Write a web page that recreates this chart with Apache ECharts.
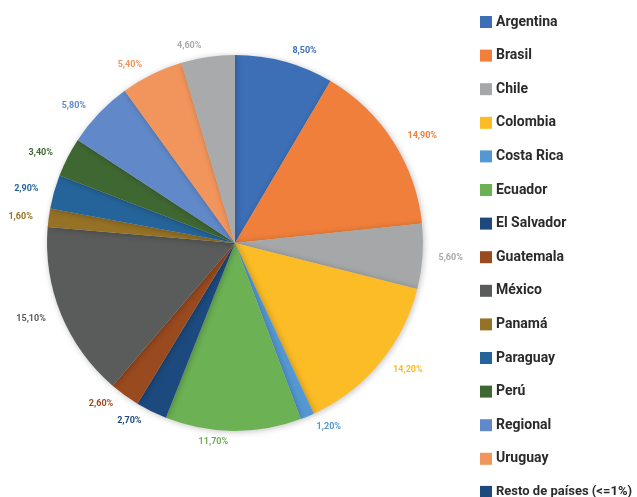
<!DOCTYPE html>
<html><head><meta charset="utf-8">
<script src="https://cdn.jsdelivr.net/npm/echarts@6/dist/echarts.min.js"></script>
<style>html,body{margin:0;padding:0;background:#fff}#c{width:637px;height:497px}</style>
</head><body><div id="c"></div>
<script>
var categories = ['Argentina','Brasil','Chile','Colombia','Costa Rica','Ecuador','El Salvador','Guatemala','México','Panamá','Paraguay','Perú','Regional','Uruguay','Resto de países (<=1%)'];
var values = [8.5,14.9,5.6,14.2,1.2,11.7,2.7,2.6,15.1,1.6,2.9,3.4,5.8,5.4,4.6];
var colors = ['#3D6FB6','#EF7F3A','#A5A7A8','#FCBC26','#5498D3','#6CB254','#1C4A7E','#9A4A1F','#5A5C5C','#967226','#25649A','#3F6732','#6189C9','#F2955C','#A8AAAB'];
var legendColors = ['#3D6FB6','#EF7F3A','#A5A7A8','#FCBC26','#5498D3','#6CB254','#1C4A7E','#9A4A1F','#5A5C5C','#967226','#25649A','#3F6732','#6189C9','#F2955C','#1C4A7E'];

var data = categories.map(function(n,i){
  return {name:n, value:values[i], itemStyle:{color:colors[i]}, label:{color:colors[i]}};
});
var chart = echarts.init(document.getElementById('c'));
chart.setOption({
  animation:false,
  legend:{
    orient:'vertical', left:475, top:10, height:560, itemWidth:12, itemHeight:12, itemGap:19.6,
    icon:'rect',
    textStyle:{fontFamily:'Roboto', fontWeight:'bold', fontSize:14, color:'#2b2b2b', padding:[0,0,0,-1]},
    data: categories.map(function(n,i){
      var d = {name:n, itemStyle:{color:legendColors[i]}};
      if (i === categories.length-1) d.textStyle = {fontSize:13};
      return d;
    })
  },
  series:[{
    type:'pie', center:[235,243], radius:[0,188], startAngle:90, clockwise:true,
    data:data,
    itemStyle:{shadowBlur:6, shadowColor:'rgba(0,0,0,0.25)', shadowOffsetX:1, shadowOffsetY:1},
    label:{show:true, position:'outside', overflow:'none', fontFamily:'Roboto', fontWeight:'bold', fontSize:9,
      formatter:function(p){return p.value.toFixed(2).replace('.',',')+'%';}},
    labelLine:{show:false, length:11, length2:0},
    emphasis:{disabled:true}
  }]
});
</script></body></html>
